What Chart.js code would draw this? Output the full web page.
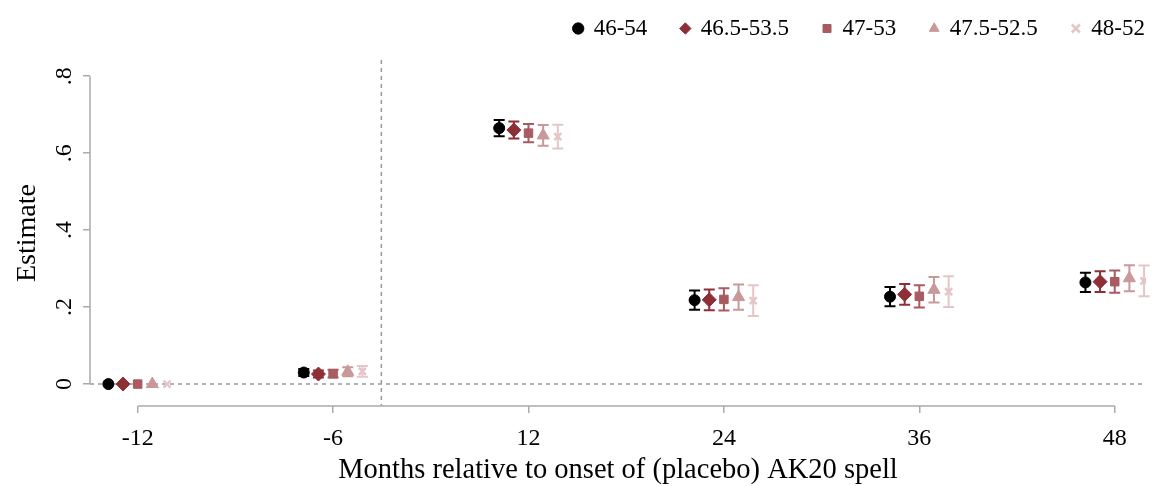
<!DOCTYPE html>
<html>
<head>
<meta charset="utf-8">
<script src="https://cdn.jsdelivr.net/npm/chart.js@4"></script>
<style>
  body { margin: 0; background: #fff; }
</style>
</head>
<body>
<canvas id="estimates" width="1154" height="486"></canvas>
<script>
// months relative to onset, one category each
var months = ['-12', '-6', '12', '24', '36', '48'];
var bands = ['46-54', '46.5-53.5', '47-53', '47.5-52.5', '48-52'];

// point estimates per bandwidth
var est4654 = [0, 0.030, 0.665, 0.218, 0.227, 0.264];
var est465535 = [0, 0.026, 0.660, 0.219, 0.233, 0.266];
var est4753 = [0, 0.027, 0.652, 0.220, 0.228, 0.266];
var est475525 = [0, 0.032, 0.646, 0.226, 0.245, 0.275];
var est4852 = [0, 0.033, 0.643, 0.217, 0.240, 0.268];

// half width of the confidence interval
var ci4654 = [0, 0.009, 0.021, 0.025, 0.025, 0.025];
var ci465535 = [0, 0.009, 0.022, 0.027, 0.027, 0.027];
var ci4753 = [0, 0.010, 0.024, 0.029, 0.029, 0.029];
var ci475525 = [0, 0.012, 0.027, 0.033, 0.033, 0.034];
var ci4852 = [0, 0.014, 0.031, 0.040, 0.040, 0.040];

var yTicks = [0, 0.2, 0.4, 0.6, 0.8];
var yTickLabels = ['0', '.2', '.4', '.6', '.8'];

var estimates = [est4654, est465535, est4753, est475525, est4852];
var intervals = [ci4654, ci465535, ci4753, ci475525, ci4852];
var colors = ['#000000', '#8e2f38', '#a85b60', '#c9989b', '#e4c6c8'];
var shapes = ['circle', 'rectRot', 'rect', 'triangle', 'crossRot'];
var radii = [5.5, 7, 6, 7, 5];
var shift = [-0.15, -0.075, 0, 0.075, 0.15];
var serif = 'Liberation Serif';

var datasets = bands.map(function (name, s) {
    return {
        label: name,
        data: estimates[s].map(function (v, i) { return { x: i + shift[s], y: v, ci: intervals[s][i] }; }),
        pointStyle: shapes[s],
        pointRadius: radii[s],
        pointHoverRadius: radii[s],
        backgroundColor: colors[s],
        borderColor: colors[s],
        borderWidth: s === 4 ? 2.5 : 1,
        showLine: false
    };
});

// error bars, dashed reference lines, axis lines and rotated y labels
var decorations = {
    id: 'decorations',
    afterLayout: function (chart) {
        // nudge the legend up and to the right, like the original
        chart.legend.left += 27;
        chart.legend.right += 27;
        chart.legend.top -= 10;
        chart.legend.bottom -= 10;
    },
    beforeDatasetsDraw: function (chart) {
        var ctx = chart.ctx;
        var xs = chart.scales.x, ys = chart.scales.y, area = chart.chartArea;
        ctx.save();
        ctx.strokeStyle = '#999';
        ctx.lineWidth = 1.5;
        ctx.setLineDash([4, 4]);
        var zy = ys.getPixelForValue(0);
        ctx.beginPath();
        ctx.moveTo(area.left, zy);
        ctx.lineTo(area.right, zy);
        var vx = xs.getPixelForValue(1.247);
        ctx.moveTo(vx, area.top);
        ctx.lineTo(vx, area.bottom);
        ctx.stroke();
        ctx.setLineDash([]);

        ctx.strokeStyle = '#aaa';
        ctx.lineWidth = 1.5;
        ctx.beginPath();
        ctx.moveTo(area.left, ys.getPixelForValue(0.8));
        ctx.lineTo(area.left, ys.getPixelForValue(0));
        ctx.moveTo(xs.getPixelForValue(0), area.bottom);
        ctx.lineTo(xs.getPixelForValue(5), area.bottom);
        ctx.stroke();

        ctx.lineWidth = 2;
        chart.data.datasets.forEach(function (ds, s) {
            ctx.strokeStyle = colors[s];
            ds.data.forEach(function (p) {
                if (!p.ci) return;
                var px = xs.getPixelForValue(p.x);
                var top = ys.getPixelForValue(p.y + p.ci);
                var bot = ys.getPixelForValue(p.y - p.ci);
                ctx.beginPath();
                ctx.moveTo(px, top);
                ctx.lineTo(px, bot);
                ctx.moveTo(px - 5.5, top);
                ctx.lineTo(px + 5.5, top);
                ctx.moveTo(px - 5.5, bot);
                ctx.lineTo(px + 5.5, bot);
                ctx.stroke();
            });
        });
        ctx.restore();
    },
    afterDraw: function (chart) {
        var ctx = chart.ctx;
        var ys = chart.scales.y;
        ctx.save();
        ctx.fillStyle = '#000';
        ctx.font = '24px "' + serif + '"';
        ctx.textAlign = 'center';
        ctx.textBaseline = 'middle';
        yTicks.forEach(function (v, i) {
            ctx.save();
            ctx.translate(65, ys.getPixelForValue(v));
            ctx.rotate(-Math.PI / 2);
            ctx.fillText(yTickLabels[i], 0, 0);
            ctx.restore();
        });
        ctx.restore();
    }
};

document.addEventListener('DOMContentLoaded', function () {
    var ctx = document.getElementById('estimates').getContext('2d');
    new Chart(ctx, {
        type: 'scatter',
        data: { datasets: datasets },
        plugins: [decorations],
        options: {
            responsive: false,
            animation: false,
            events: [],
            devicePixelRatio: 1,
            layout: { padding: { top: -7, right: 2, left: 0, bottom: 0 } },
            plugins: {
                tooltip: { enabled: false },
                legend: {
                    position: 'top',
                    align: 'end',
                    labels: {
                        usePointStyle: true,
                        boxWidth: 8,
                        boxHeight: 8,
                        padding: 34,
                        color: '#000',
                        font: { family: serif, size: 23 }
                    }
                }
            },
            scales: {
                x: {
                    type: 'linear',
                    min: -0.244,
                    max: 5.16,
                    afterBuildTicks: function (scale) {
                        scale.ticks = months.map(function (m, i) { return { value: i }; });
                    },
                    afterFit: function (scale) { scale.height = 80; },
                    border: { display: false },
                    grid: { drawOnChartArea: false, drawTicks: true, tickLength: 7, color: '#aaa', lineWidth: 1.5 },
                    ticks: {
                        color: '#000',
                        padding: 11,
                        maxRotation: 0,
                        font: { family: serif, size: 24 },
                        callback: function (v) { return months[v]; }
                    },
                    title: {
                        display: true,
                        text: 'Months relative to onset of (placebo) AK20 spell',
                        color: '#000',
                        font: { family: serif, size: 28.5 },
                        padding: { top: 0, bottom: -2 }
                    }
                },
                y: {
                    min: -0.057,
                    max: 0.842,
                    afterBuildTicks: function (scale) {
                        scale.ticks = yTicks.map(function (v) { return { value: v }; });
                    },
                    afterFit: function (scale) { scale.width = 90; },
                    border: { display: false },
                    grid: { drawOnChartArea: false, drawTicks: true, tickLength: 7, color: '#aaa', lineWidth: 1.5 },
                    ticks: { display: false },
                    title: {
                        display: true,
                        text: 'Estimate',
                        color: '#000',
                        font: { family: serif, size: 28 },
                        padding: { top: 11, bottom: 0 }
                    }
                }
            }
        }
    });
});
</script>
</body>
</html>
